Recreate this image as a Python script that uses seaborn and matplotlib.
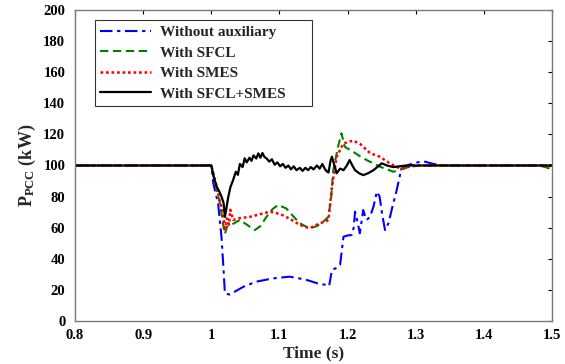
import numpy as np
import pandas as pd
import matplotlib
matplotlib.use("Agg")
import matplotlib.pyplot as plt
import seaborn as sns

# ---------------- data ----------------
t_blue = [0.80, 1.000, 1.003, 1.010, 1.015, 1.018, 1.020, 1.027, 1.035, 1.047, 1.066, 1.080,
          1.091, 1.103, 1.115, 1.128, 1.140, 1.159, 1.170, 1.173, 1.177, 1.183, 1.189, 1.194,
          1.200, 1.206, 1.209, 1.211, 1.215, 1.218, 1.223, 1.226, 1.228, 1.233, 1.238, 1.243,
          1.247, 1.251, 1.255, 1.260, 1.267, 1.272, 1.279, 1.290, 1.306, 1.314, 1.326, 1.340, 1.50]
p_blue = [100, 100, 88.5, 75.6, 54, 33, 17.8, 17, 19, 22, 25.3, 26.5,
          27.4, 28, 28.5, 27.5, 26.4, 23.8, 23.2, 22.5, 32.8, 34, 36, 54.2,
          55, 55.3, 60, 70.3, 63, 56.4, 71.4, 67, 65, 67, 73.5, 83.2,
          80, 68, 58.5, 62.8, 75.6, 84, 98, 100.5, 102.4, 102.4, 101, 100, 100]

t_green = [0.80, 1.000, 1.006, 1.013, 1.018, 1.020, 1.023, 1.032, 1.042, 1.052, 1.064, 1.072,
           1.081, 1.090, 1.098, 1.110, 1.120, 1.130, 1.144, 1.155, 1.164, 1.172, 1.176, 1.179,
           1.186, 1.191, 1.196, 1.208, 1.218, 1.228, 1.247, 1.258, 1.267, 1.276, 1.291, 1.310,
           1.480, 1.490, 1.50]
p_green = [100, 100, 88, 75, 60.6, 56, 60.6, 62.5, 65, 62, 58.5, 61,
           67, 72, 74.6, 72.4, 67.5, 62.8, 59.6, 61, 63.8, 67, 80, 97,
           112, 120.7, 112, 108.9, 106, 103.5, 99.3, 97.5, 96, 97, 99.3, 100,
           100, 99, 97.5]

t_red = [0.80, 1.000, 1.006, 1.012, 1.017, 1.020, 1.023, 1.026, 1.028, 1.032, 1.040, 1.057,
         1.070, 1.086, 1.095, 1.105, 1.118, 1.130, 1.144, 1.159, 1.168, 1.172, 1.177, 1.184,
         1.194, 1.208, 1.218, 1.223, 1.233, 1.247, 1.262, 1.272, 1.281, 1.296, 1.50]
p_red = [100, 100, 90, 78, 70, 58, 66, 62, 71.5, 65, 66, 67,
         68.5, 70.3, 69.5, 68, 65, 61.8, 59.6, 62.8, 64, 65, 86, 105.7,
         114.2, 116, 114, 112, 108, 105.7, 101.4, 99, 98, 100, 100]

t_black = [0.80, 1.000, 1.004, 1.008, 1.012, 1.015, 1.018, 1.020, 1.022, 1.025, 1.028, 1.032,
           1.036, 1.039, 1.042, 1.046, 1.049, 1.052, 1.056, 1.059, 1.062, 1.066, 1.069, 1.072,
           1.075, 1.078, 1.081, 1.085, 1.089, 1.093, 1.097, 1.101, 1.105, 1.109, 1.113, 1.117,
           1.121, 1.125, 1.130, 1.134, 1.138, 1.142, 1.146, 1.150, 1.155, 1.159, 1.163, 1.167,
           1.170, 1.172, 1.175, 1.177, 1.180, 1.184, 1.189, 1.194, 1.199, 1.203, 1.207, 1.211,
           1.217, 1.223, 1.230, 1.238, 1.245, 1.250, 1.258, 1.267, 1.286, 1.50]
p_black = [100, 100, 92, 86.4, 83, 80, 76, 67, 72, 80, 86, 90.6,
           96, 94, 101, 99, 104.6, 102, 105, 103, 106.5, 104.5, 107.8, 105,
           108, 105.5, 104.6, 102.5, 104, 100.5, 102, 99.5, 101, 98.5, 100, 97.5,
           99.5, 97, 98.5, 96.5, 98.5, 97, 99, 97.5, 100, 98, 101, 97.5,
           96, 95.5, 103, 105.7, 101, 95, 98, 97, 100, 103.5, 100, 97,
           95, 93.8, 95, 97, 99.5, 101.4, 100, 99, 100, 100]

series = [
    ("Without auxiliary", t_blue, p_blue, "#0000ff", (0, (6, 2.2, 1.6, 2.2)), 1.5),
    ("With SFCL", t_green, p_green, "#008000", (0, (4, 2.2)), 1.5),
    ("With SMES", t_red, p_red, "#ff0000", (0, (1.1, 1.1)), 1.8),
    ("With SFCL+SMES", t_black, p_black, "#000000", "-", 1.6),
]

xticks = [0.8, 0.9, 1.0, 1.1, 1.2, 1.3, 1.4, 1.5]
xticklabels = ["0.8", "0.9", "1", "1.1", "1.2", "1.3", "1.4", "1.5"]
yticks = [0, 20, 40, 60, 80, 100, 120, 140, 160, 180, 200]

# ---------------- style ----------------
sns.set_theme(style="white")
plt.rcParams["font.family"] = ["Liberation Serif", "DejaVu Serif"]
plt.rcParams["font.weight"] = "bold"
plt.rcParams["mathtext.fontset"] = "custom"
plt.rcParams["mathtext.rm"] = "Liberation Serif:bold"
plt.rcParams["mathtext.bf"] = "Liberation Serif:bold"
plt.rcParams["mathtext.it"] = "Liberation Serif:bold"

fig = plt.figure(figsize=(5.65, 3.64), dpi=100)
ax = fig.add_axes([75 / 565, 1 - 321 / 364, (552 - 75) / 565, (321 - 10) / 364])

for name, t, p, color, ls, lw in series:
    df = pd.DataFrame({"t": t, "p": p})
    sns.lineplot(data=df, x="t", y="p", ax=ax, color=color, linewidth=lw,
                 label=name, estimator=None, sort=False)
    ax.lines[-1].set_linestyle(ls)

ax.set_xlim(0.8, 1.5)
ax.set_ylim(0, 200)
ax.set_xticks(xticks)
ax.set_xticklabels(xticklabels)
ax.set_yticks(yticks)
ax.tick_params(direction="in", length=3, width=0.8, top=True, right=True,
               labelsize=10.5, colors="#000000")
ax.tick_params(axis="x", pad=6)
ax.tick_params(axis="y", pad=7)
for lab in ax.get_xticklabels() + ax.get_yticklabels():
    lab.set_fontweight("bold")
for s in ax.spines.values():
    s.set_color("#7a7a7a")
    s.set_linewidth(1.0)

ax.set_xlabel("Time (s)", fontsize=12.5, fontweight="bold", labelpad=2)
ax.set_ylabel(r"P$_{\mathrm{PCC}}$ (kW)", fontsize=13, fontweight="bold", labelpad=4)

x0 = (95 - 75) / 477
y1 = (321 - 20) / 311
w = (312 - 95) / 477
leg = ax.legend(loc="upper left", bbox_to_anchor=(x0, y1 - 0.3, w, 0.3), mode="expand",
                borderaxespad=0, handlelength=3.3, frameon=True, fancybox=False,
                borderpad=0.35, labelspacing=0.45, handletextpad=0.6,
                prop={"weight": "bold", "size": 11})
leg.get_frame().set_edgecolor("#000000")
leg.get_frame().set_linewidth(0.8)
for h, (_, _, _, c, ls, lw) in zip(leg.get_lines(), series):
    h.set_linestyle(ls)
    h.set_linewidth(lw)

fig.savefig("out.png", dpi=100)
